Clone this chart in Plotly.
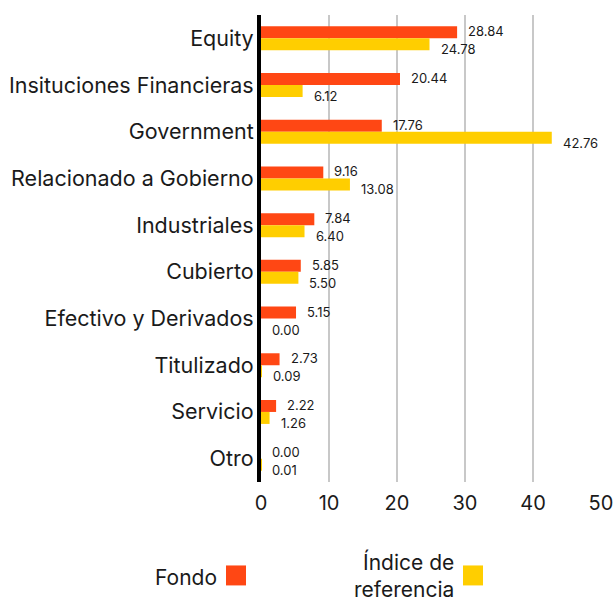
import plotly.graph_objects as go

categories = ["Equity", "Insituciones Financieras", "Government", "Relacionado a Gobierno",
              "Industriales", "Cubierto", "Efectivo y Derivados", "Titulizado", "Servicio", "Otro"]
fondo = [28.84, 20.44, 17.76, 9.16, 7.84, 5.85, 5.15, 2.73, 2.22, 0.00]
indice = [24.78, 6.12, 42.76, 13.08, 6.40, 5.50, 0.00, 0.09, 1.26, 0.01]
x_ticks = [0, 10, 20, 30, 40, 50]

RED = "#ff4714"
YEL = "#ffce00"
FONT = "Inter, 'Noto Sans', sans-serif"
TXT = "#1a1a1a"

W, H = 614, 601
PL, PR = 261, 601          # plot left / right in window px
PT, PB = 14.6, 482.4       # plot top / bottom in window px
PW, PH = PR - PL, PB - PT

fig = go.Figure()
fig.add_trace(go.Bar(y=categories, x=fondo, orientation="h", name="Fondo",
                     marker=dict(color=RED, line=dict(width=0)), showlegend=False))
fig.add_trace(go.Bar(y=categories, x=indice, orientation="h", name="Índice de referencia",
                     marker=dict(color=YEL, line=dict(width=0)), showlegend=False))

for c, v in zip(categories, fondo):
    fig.add_annotation(x=v, y=c, text=f"{v:.2f}", showarrow=False, xanchor="left",
                       yanchor="middle", xshift=9, yshift=7,
                       font=dict(family=FONT, size=13, color=TXT))
for c, v in zip(categories, indice):
    fig.add_annotation(x=v, y=c, text=f"{v:.2f}", showarrow=False, xanchor="left",
                       yanchor="middle", xshift=9, yshift=-11,
                       font=dict(family=FONT, size=13, color=TXT))


def px_x(x):
    return (x - PL) / PW


def px_y(y):
    return (PB - y) / PH


# legend built manually (text left of swatch)
fig.add_annotation(xref="paper", yref="paper", x=px_x(219), y=px_y(578),
                   text="Fondo", showarrow=False, xanchor="right", yanchor="middle",
                   font=dict(family=FONT, size=21, color=TXT))
fig.add_shape(type="rect", xref="paper", yref="paper",
              x0=px_x(226), x1=px_x(246), y0=px_y(586), y1=px_y(566),
              fillcolor=RED, line=dict(width=0))
fig.add_annotation(xref="paper", yref="paper", x=px_x(456), y=px_y(576),
                   text="Índice de<br>referencia", showarrow=False, xanchor="right",
                   yanchor="middle", align="right",
                   font=dict(family=FONT, size=21, color=TXT))
fig.add_shape(type="rect", xref="paper", yref="paper",
              x0=px_x(463), x1=px_x(483), y0=px_y(586), y1=px_y(566),
              fillcolor=YEL, line=dict(width=0))

fig.update_layout(
    width=W, height=H,
    margin=dict(l=PL, r=W - PR, t=PT, b=H - PB, autoexpand=False),
    barmode="group", bargap=0.487, bargroupgap=0,
    plot_bgcolor="white", paper_bgcolor="white",
    font=dict(family=FONT, color=TXT),
    xaxis=dict(range=[0, 50], tickvals=x_ticks, showgrid=True, gridcolor="#c8c8c8",
               gridwidth=2, zeroline=False, showline=False, automargin=False,
               ticklabelstandoff=7,
               tickfont=dict(family=FONT, size=20, color=TXT), ticks="", fixedrange=True),
    yaxis=dict(autorange="reversed", showline=True, linecolor="black", linewidth=4,
               showgrid=False, ticks="", ticklabelstandoff=-1, automargin=False,
               tickfont=dict(family=FONT, size=21.5, color=TXT)),
)

fig.write_html("out.html", config={"displayModeBar": False},
               post_script="document.body.style.margin='0px';document.body.style.overflow='hidden';")
